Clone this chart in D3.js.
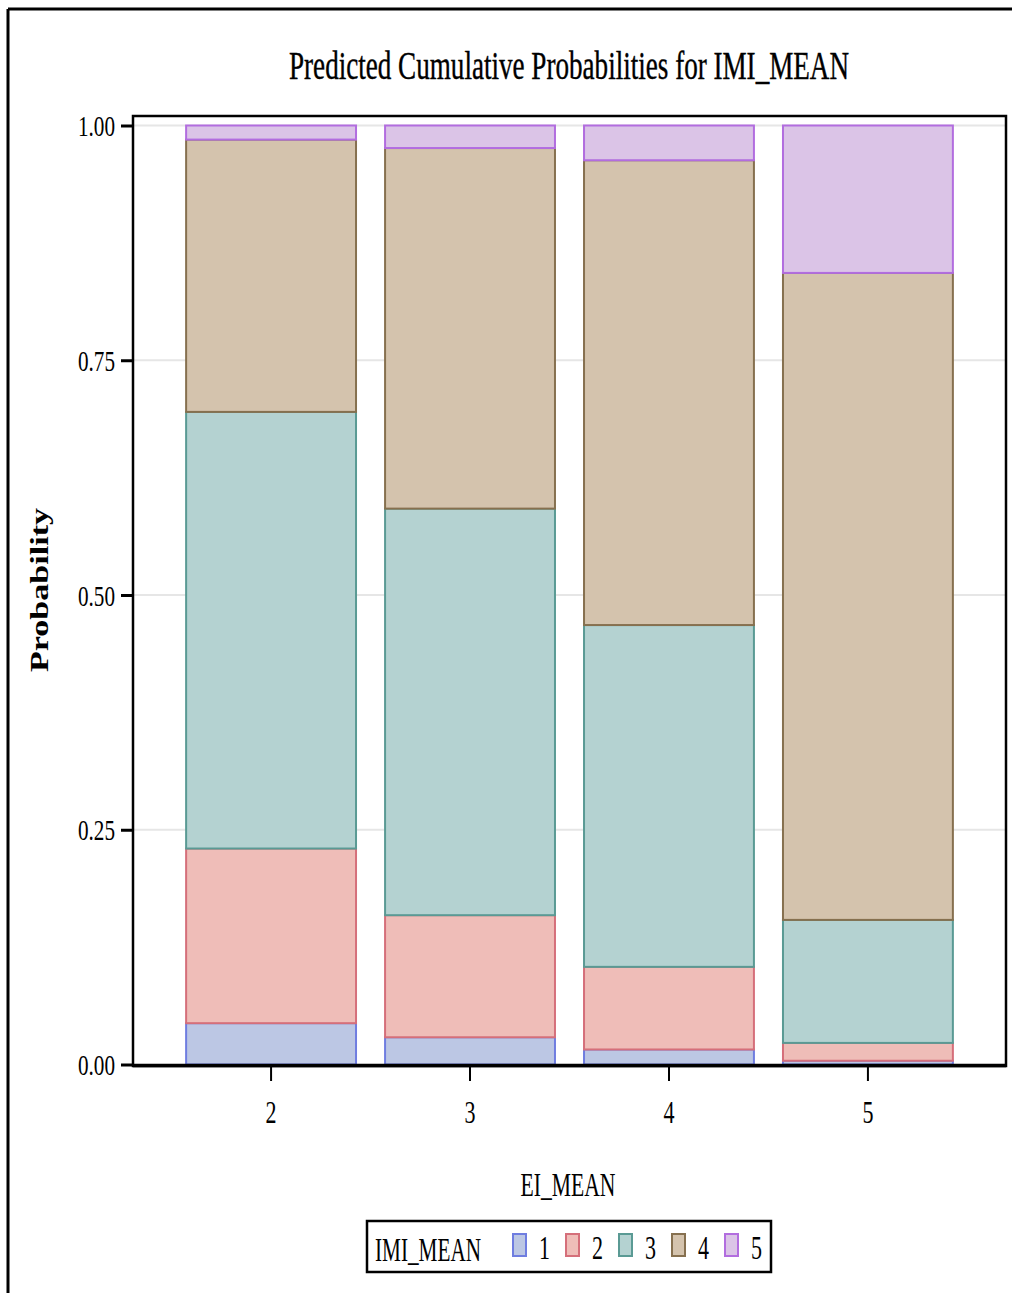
<!DOCTYPE html>
<html>
<head>
<meta charset="utf-8">
<title>Predicted Cumulative Probabilities for IMI_MEAN</title>
<style>
body { margin: 0; background: #fff; }
svg { display: block; }
</style>
</head>
<body>
<div id="chart"></div>
<script src="https://cdn.jsdelivr.net/npm/d3@7"></script>
<script>
// EI_MEAN groups on the x axis
const categories = ["2", "3", "4", "5"];
// IMI_MEAN levels (legend)
const levels = ["1", "2", "3", "4", "5"];
// probability of each IMI_MEAN level, per EI_MEAN group
const level1 = [0.044, 0.029, 0.016, 0.004];
const level2 = [0.186, 0.130, 0.088, 0.019];
const level3 = [0.465, 0.433, 0.364, 0.131];
const level4 = [0.290, 0.384, 0.495, 0.689];
const level5 = [0.015, 0.024, 0.037, 0.157];
const yTicks = [0, 0.25, 0.5, 0.75, 1];

const fills   = ["#bcc7e4", "#efbdb8", "#b4d2d1", "#d4c3ad", "#dbc4e7"];
const strokes = ["#6f7de0", "#d56f7a", "#5a9a94", "#86704f", "#b26ddf"];
const serif = "'Liberation Serif', 'Times New Roman', 'DejaVu Serif', serif";

const W = 1012, H = 1293;
const svg = d3.select("#chart").append("svg")
    .attr("width", W).attr("height", H)
    .attr("font-family", serif);

// outer border (top and left only)
svg.append("line").attr("x1", 8).attr("x2", W).attr("y1", 9).attr("y2", 9)
    .attr("stroke", "#000").attr("stroke-width", 3);
svg.append("line").attr("x1", 8).attr("x2", 8).attr("y1", 9).attr("y2", H)
    .attr("stroke", "#000").attr("stroke-width", 3);

const plot = {left: 133, right: 1006, top: 116, bottom: 1066};

const x = d3.scaleBand().domain(categories)
    .range([plot.left, plot.right])
    .paddingInner(0.146).paddingOuter(0.267);
const y = d3.scaleLinear().domain([0, 1]).range([1064.5, 125.5]);

// rows for stacking
const table = categories.map((c, i) => ({
    cat: c, "1": level1[i], "2": level2[i], "3": level3[i], "4": level4[i], "5": level5[i]
}));
const series = d3.stack().keys(levels)(table);

// title
svg.append("text")
    .attr("x", 569).attr("y", 79)
    .attr("text-anchor", "middle")
    .attr("font-family", serif)
    .attr("font-size", 40)
    .attr("stroke", "#000").attr("stroke-width", 0.4)
    .attr("textLength", 560).attr("lengthAdjust", "spacingAndGlyphs")
    .text("Predicted Cumulative Probabilities for IMI_MEAN");

// grid lines
svg.append("g").selectAll("line")
    .data(yTicks.filter(d => d > 0))
    .join("line")
    .attr("x1", plot.left).attr("x2", plot.right)
    .attr("y1", d => y(d)).attr("y2", d => y(d))
    .attr("stroke", "#e6e6e6").attr("stroke-width", 2);

// stacked bars
svg.append("g").selectAll("g")
    .data(series)
    .join("g")
    .attr("fill", (d, i) => fills[i])
    .attr("stroke", (d, i) => strokes[i])
    .attr("stroke-width", 2)
    .selectAll("rect")
    .data(d => d)
    .join("rect")
    .attr("x", d => x(d.data.cat))
    .attr("width", x.bandwidth())
    .attr("y", d => y(d[1]))
    .attr("height", d => Math.max(0, y(d[0]) - y(d[1])));

// frame
svg.append("rect")
    .attr("x", plot.left).attr("y", plot.top)
    .attr("width", plot.right - plot.left).attr("height", plot.bottom - plot.top)
    .attr("fill", "none").attr("stroke", "#000").attr("stroke-width", 2.5);
svg.append("line")
    .attr("x1", plot.left).attr("x2", plot.right)
    .attr("y1", plot.bottom - 0.5).attr("y2", plot.bottom - 0.5)
    .attr("stroke", "#000").attr("stroke-width", 3.5);

// y axis
const yAxis = svg.append("g")
    .attr("transform", `translate(${plot.left},0)`)
    .call(d3.axisLeft(y).tickValues(yTicks).tickFormat(d3.format(".2f"))
        .tickSize(12).tickSizeOuter(0).tickPadding(6));
yAxis.select(".domain").remove();
yAxis.selectAll(".tick line").attr("stroke", "#000").attr("stroke-width", 3);
yAxis.selectAll(".tick text")
    .attr("font-family", serif).attr("font-size", 30)
    .attr("dy", "0.34em")
    .attr("textLength", 37).attr("lengthAdjust", "spacingAndGlyphs");

// x axis
const xAxis = svg.append("g")
    .attr("transform", `translate(0,${plot.bottom})`)
    .call(d3.axisBottom(x).tickSize(15).tickSizeOuter(0).tickPadding(20));
xAxis.select(".domain").remove();
xAxis.selectAll(".tick line").attr("stroke", "#000").attr("stroke-width", 2);
xAxis.selectAll(".tick text")
    .attr("font-family", serif).attr("font-size", 31)
    .attr("textLength", 11).attr("lengthAdjust", "spacingAndGlyphs");

// axis labels
svg.append("text")
    .attr("x", 568).attr("y", 1196)
    .attr("text-anchor", "middle")
    .attr("font-family", serif)
    .attr("font-size", 34)
    .attr("textLength", 95).attr("lengthAdjust", "spacingAndGlyphs")
    .text("EI_MEAN");

svg.append("text")
    .attr("transform", "translate(48,590) scale(0.68,1) rotate(-90)")
    .attr("text-anchor", "middle")
    .attr("font-family", serif)
    .attr("font-size", 36)
    .attr("font-weight", "bold")
    .attr("textLength", 164).attr("lengthAdjust", "spacingAndGlyphs")
    .text("Probability");

// legend
const legend = svg.append("g");
legend.append("rect")
    .attr("x", 367).attr("y", 1221).attr("width", 404).attr("height", 51)
    .attr("fill", "#fff").attr("stroke", "#000").attr("stroke-width", 2.5);
legend.append("text")
    .attr("x", 375).attr("y", 1261)
    .attr("font-family", serif)
    .attr("font-size", 33)
    .attr("textLength", 106).attr("lengthAdjust", "spacingAndGlyphs")
    .text("IMI_MEAN");

const lx = d3.scalePoint().domain(levels).range([512, 724]);
const items = legend.selectAll("g.item")
    .data(levels)
    .join("g").attr("class", "item")
    .attr("transform", d => `translate(${lx(d)},0)`);
items.append("rect")
    .attr("x", 1).attr("y", 1234).attr("width", 13).attr("height", 22)
    .attr("fill", (d, i) => fills[i])
    .attr("stroke", (d, i) => strokes[i]).attr("stroke-width", 2);
items.append("text")
    .attr("x", 27).attr("y", 1259)
    .attr("font-family", serif)
    .attr("font-size", 33)
    .attr("textLength", 11).attr("lengthAdjust", "spacingAndGlyphs")
    .text(d => d);
</script>
</body>
</html>
